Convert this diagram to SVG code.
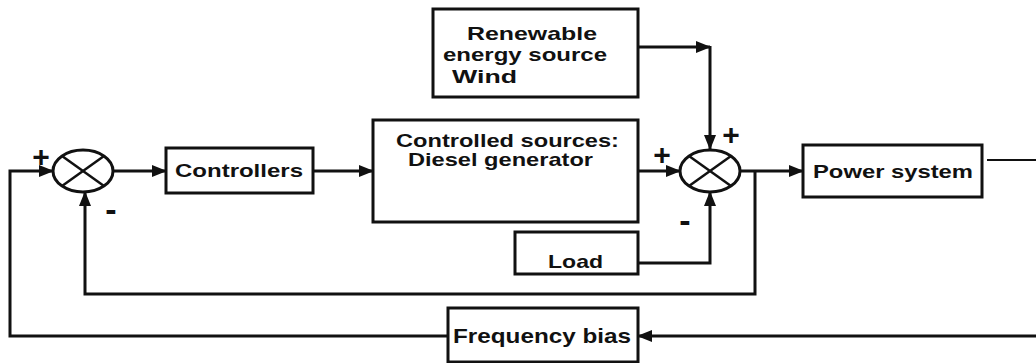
<svg xmlns="http://www.w3.org/2000/svg" width="1036" height="363" viewBox="0 0 1036 363">
<style>
.box{fill:#fff;stroke:#111;stroke-width:3}
.sum{fill:#fff;stroke:#111;stroke-width:3}
.x{stroke:#111;stroke-width:2.5}
.ln{fill:none;stroke:#111;stroke-width:3}
.thin{fill:none;stroke:#111;stroke-width:2.2}
.t{font-family:"Liberation Sans",Arial,sans-serif;font-weight:bold;font-size:19px;fill:#111}
.s{font-family:"Liberation Sans",Arial,sans-serif;font-weight:bold;font-size:30px;fill:#111;text-anchor:middle}
.m{font-family:"Liberation Sans",Arial,sans-serif;font-weight:bold;font-size:34px;fill:#111;text-anchor:middle}
</style>
<defs>
<marker id="ah" markerUnits="userSpaceOnUse" markerWidth="15" markerHeight="12" refX="14" refY="6" orient="auto">
<path d="M0,0 L15,6 L0,12 z" fill="#111"/>
</marker>
</defs>
<g id="connectors">
<path class="ln" d="M448,336 H10 V171 H53" marker-end="url(#ah)"/>
<path class="ln" d="M113,171 H166" marker-end="url(#ah)"/>
<path class="ln" d="M313,171 H373" marker-end="url(#ah)"/>
<path class="ln" d="M638,171 H680" marker-end="url(#ah)"/>
<path class="ln" d="M638,47 H710" marker-end="url(#ah)"/>
<path class="ln" d="M710,46 V149" marker-end="url(#ah)"/>
<path class="ln" d="M638,263 H710 V192" marker-end="url(#ah)"/>
<path class="ln" d="M740,171 H803" marker-end="url(#ah)"/>
<path class="ln" d="M755,171 V294 H85 V192" marker-end="url(#ah)"/>
<path class="thin" d="M987,160 H1036"/>
<path class="ln" d="M1036,336 H638" marker-end="url(#ah)"/>
</g>
<g id="sum1">
<ellipse class="sum" cx="83" cy="171" rx="30" ry="21"/>
<line class="x" x1="62" y1="156" x2="104" y2="186"/>
<line class="x" x1="62" y1="186" x2="104" y2="156"/>
<text class="s" x="41" y="167">+</text>
<text class="m" x="111" y="221">-</text>
</g>
<g id="controllers">
<rect class="box" x="166" y="148" width="147" height="45"/>
<text class="t" x="175" y="177" textLength="128" lengthAdjust="spacingAndGlyphs">Controllers</text>
</g>
<g id="controlled-sources">
<rect class="box" x="373" y="120" width="265" height="102"/>
<text class="t" x="396" y="147" textLength="223" lengthAdjust="spacingAndGlyphs">Controlled sources:</text>
<text class="t" x="408" y="166" textLength="185" lengthAdjust="spacingAndGlyphs">Diesel generator</text>
</g>
<g id="renewable">
<rect class="box" x="433" y="9" width="205" height="88"/>
<text class="t" x="467" y="40" textLength="130" lengthAdjust="spacingAndGlyphs">Renewable</text>
<text class="t" x="443" y="61" textLength="164" lengthAdjust="spacingAndGlyphs">energy source</text>
<text class="t" x="452" y="83" textLength="65" lengthAdjust="spacingAndGlyphs">Wind</text>
</g>
<g id="sum2">
<ellipse class="sum" cx="710" cy="171" rx="30" ry="21"/>
<line class="x" x1="689" y1="156" x2="731" y2="186"/>
<line class="x" x1="689" y1="186" x2="731" y2="156"/>
<text class="s" x="731" y="145">+</text>
<text class="s" x="662" y="165">+</text>
<text class="m" x="685" y="232">-</text>
</g>
<g id="load">
<rect class="box" x="515" y="232" width="123" height="42"/>
<text class="t" x="548" y="268" textLength="55" lengthAdjust="spacingAndGlyphs">Load</text>
</g>
<g id="power-system">
<rect class="box" x="803" y="145" width="179" height="52"/>
<text class="t" x="813" y="178" textLength="160" lengthAdjust="spacingAndGlyphs">Power system</text>
</g>
<g id="frequency-bias">
<rect class="box" x="448" y="308" width="190" height="54"/>
<text class="t" x="453" y="343" textLength="178" lengthAdjust="spacingAndGlyphs" style="font-size:21px">Frequency bias</text>
</g>
</svg>
